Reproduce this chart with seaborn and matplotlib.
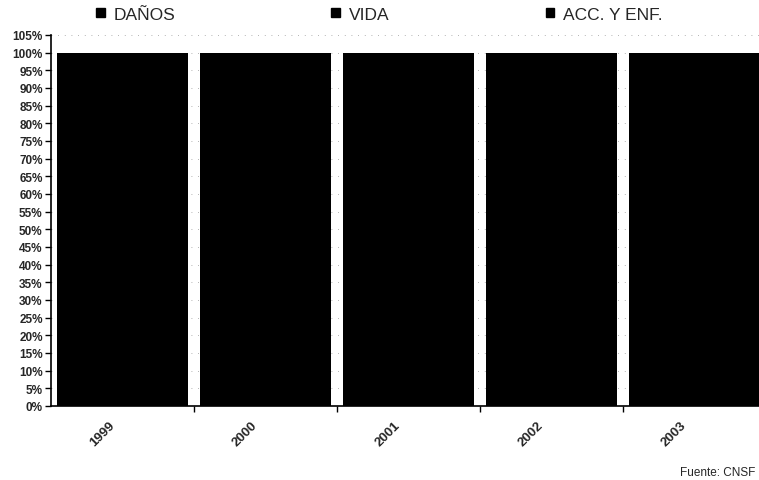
import numpy as np
import pandas as pd
import matplotlib
matplotlib.use("Agg")
import matplotlib.pyplot as plt
import matplotlib.transforms as mtransforms
import seaborn as sns
from matplotlib.patches import Patch

# Share of premiums by line of business (% of total, each year sums to 100)
years = ["1999", "2000", "2001", "2002", "2003"]
danos = [52, 50, 48, 46, 45]
vida = [37, 38, 41, 44, 45]
acc_enf = [11, 12, 11, 10, 10]
series_names = ["DAÑOS", "VIDA", "ACC. Y ENF."]
y_ticks = list(range(0, 110, 5))

sns.set_theme(style="white")
plt.rcParams["font.family"] = ["Liberation Sans", "DejaVu Sans"]

df = pd.DataFrame({"year": years, "DAÑOS": danos, "VIDA": vida, "ACC. Y ENF.": acc_enf})
df["c1"] = df["DAÑOS"]
df["c2"] = df["c1"] + df["VIDA"]
df["c3"] = df["c2"] + df["ACC. Y ENF."]

fig = plt.figure(figsize=(7.59, 4.81), dpi=100)
ax = fig.add_axes([51 / 759, 1 - 407 / 481, 1 - 51 / 759, (407 - 36) / 481])

# faint dotted horizontal gridlines behind the bars
for t in y_ticks:
    ax.axhline(t, color="#9a9a9a", lw=0.6, ls=(0, (1, 7)), zorder=0)

# stacked bars: draw cumulative totals from the top segment down
bar_width = 0.915
for col in ["c3", "c2", "c1"]:
    sns.barplot(data=df, x="year", y=col, color="black", width=bar_width,
                saturation=1, ax=ax, zorder=2, edgecolor="black", linewidth=0)

ax.set_xlim(-0.5, 4.5 - 7 / 143.3)
ax.set_ylim(0, 105)
ax.set_xlabel("")
ax.set_ylabel("")

ax.set_yticks(y_ticks)
ax.set_yticklabels([f"{t}%" for t in y_ticks], fontsize=8.5, fontweight="bold")
ax.tick_params(axis="y", direction="out", length=4, width=1, color="black",
               pad=2, left=True)

ax.set_xticks(range(len(years)))
ax.set_xticklabels(years, rotation=45, ha="right", rotation_mode="anchor",
                   fontsize=9.5, fontweight="bold")
ax.tick_params(axis="x", length=0, pad=9)
shift = mtransforms.ScaledTranslation(-14 / 100, 0, fig.dpi_scale_trans)
for lbl in ax.get_xticklabels():
    lbl.set_transform(lbl.get_transform() + shift)
ax.set_xticks(np.arange(0.5, 4.5, 1), minor=True)
ax.tick_params(axis="x", which="minor", direction="out", length=4, width=1,
               color="black", bottom=True)

for s in ["top", "right"]:
    ax.spines[s].set_visible(False)
for s in ["left", "bottom"]:
    ax.spines[s].set_visible(True)
    ax.spines[s].set_color("black")
    ax.spines[s].set_linewidth(1.2)

handles = [Patch(facecolor="black", edgecolor="black") for _ in series_names]
fig.legend(handles, series_names, loc="center left",
           bbox_to_anchor=(96 / 759, 1 - 15 / 481), ncol=3, frameon=False,
           fontsize=12.5, handlelength=0.5, handleheight=0.45,
           handletextpad=0.5, columnspacing=9.0, borderpad=0, borderaxespad=0)

fig.text(755 / 759, 1 - 473 / 481, "Fuente: CNSF", fontsize=8.5,
         ha="right", va="center")

fig.savefig("out.png", dpi=100)
